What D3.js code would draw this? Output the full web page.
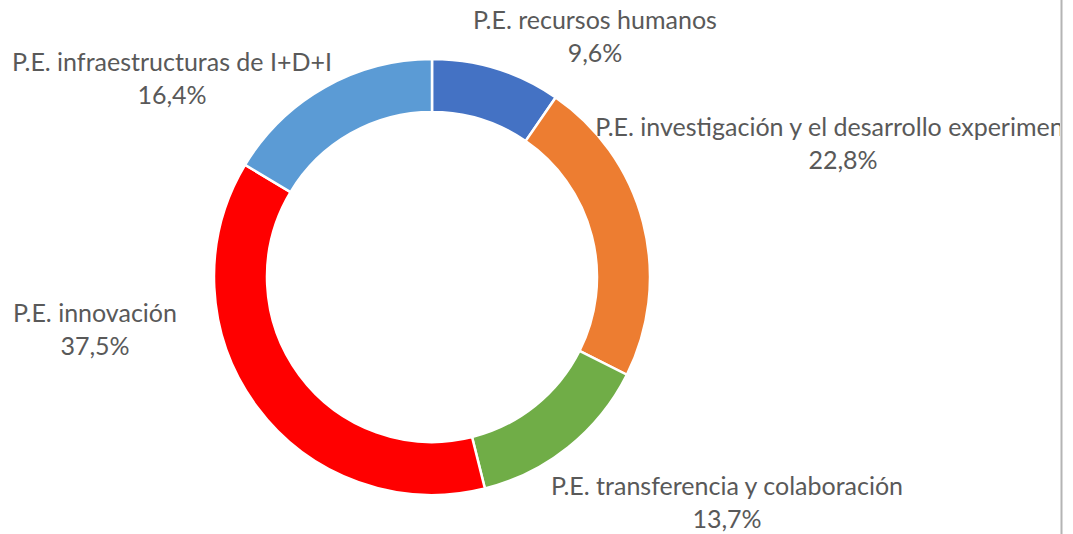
<!DOCTYPE html>
<html>
<head>
<meta charset="UTF-8">
<script src="https://cdn.jsdelivr.net/npm/d3@7"></script>
<style>
  body { margin: 0; background: #fff; }
  text { font-family: Lato, "Open Sans", sans-serif; font-size: 25px; fill: #595959; }
</style>
</head>
<body>
<script>
var categories = ["P.E. recursos humanos", "P.E. investigación y el desarrollo experimental",
                  "P.E. transferencia y colaboración", "P.E. innovación", "P.E. infraestructuras de I+D+I"];
var values = [9.6, 22.8, 13.7, 37.5, 16.4];
var valueLabels = ["9,6%", "22,8%", "13,7%", "37,5%", "16,4%"];
var colors = ["#4472C4", "#ED7D31", "#70AD47", "#FF0000", "#5B9BD5"];
// label anchors: centre x, baseline y of first line
var labelPos = [[595, 29], [843, 136], [727, 495], [95, 322], [172, 71]];

var W = 1073, H = 534, cx = 432, cy = 277, rOut = 218, rIn = 165;

var svg = d3.select("body").append("svg")
    .attr("width", W)
    .attr("height", H);

svg.append("defs").append("clipPath").attr("id", "clipArea")
    .append("rect").attr("x", 0).attr("y", 0).attr("width", 1060).attr("height", H);

var pie = d3.pie().sort(null).value(function(d){ return d; });
var arc = d3.arc().innerRadius(rIn).outerRadius(rOut);

var g = svg.append("g").attr("transform", "translate(" + cx + "," + cy + ")");

g.selectAll("path")
    .data(pie(values))
    .enter()
    .append("path")
    .attr("d", arc)
    .attr("fill", function(d, i){ return colors[i]; })
    .attr("stroke", "#fff")
    .attr("stroke-width", 2.5);

var labels = svg.append("g").attr("clip-path", "url(#clipArea)");

labels.selectAll("text.cat")
    .data(categories)
    .enter()
    .append("text")
    .attr("class", "cat")
    .attr("x", function(d, i){ return labelPos[i][0]; })
    .attr("y", function(d, i){ return labelPos[i][1]; })
    .attr("text-anchor", "middle")
    .text(function(d){ return d; });

labels.selectAll("text.val")
    .data(valueLabels)
    .enter()
    .append("text")
    .attr("class", "val")
    .attr("x", function(d, i){ return labelPos[i][0]; })
    .attr("y", function(d, i){ return labelPos[i][1] + 33; })
    .attr("text-anchor", "middle")
    .text(function(d){ return d; });

// right border line
svg.append("line")
    .attr("x1", 1061.5).attr("x2", 1061.5)
    .attr("y1", 0).attr("y2", H)
    .attr("stroke", "#b4b4b4")
    .attr("stroke-width", 2);
</script>
</body>
</html>
